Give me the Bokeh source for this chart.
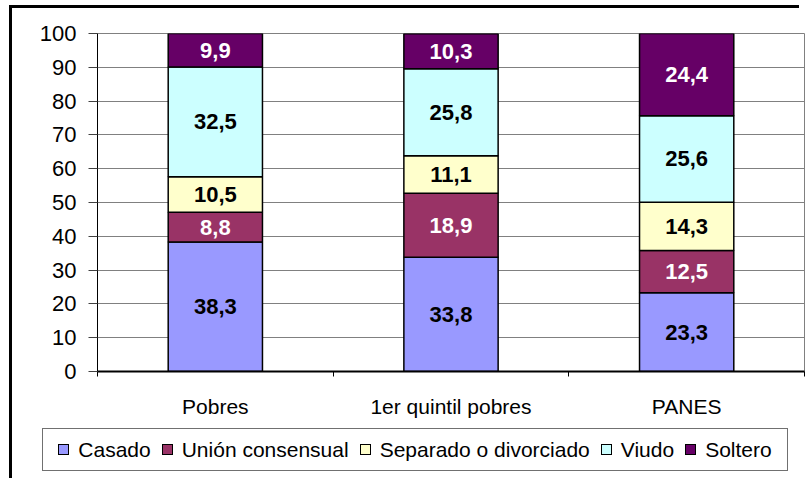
from bokeh.plotting import figure
from bokeh.layouts import column
from bokeh.models import Range1d, FixedTicker, InlineStyleSheet, Div
from bokeh.embed import file_html
from bokeh.resources import INLINE
from bokeh.core.properties import value

categories = ["Pobres", "1er quintil pobres", "PANES"]
series_names = ["Casado", "Unión consensual", "Separado o divorciado", "Viudo", "Soltero"]
casado = [38.3, 33.8, 23.3]
union_consensual = [8.8, 18.9, 12.5]
separado = [10.5, 11.1, 14.3]
viudo = [32.5, 25.8, 25.6]
soltero = [9.9, 10.3, 24.4]
y_ticks = [0, 10, 20, 30, 40, 50, 60, 70, 80, 90, 100]

series_values = [casado, union_consensual, separado, viudo, soltero]
colors = ["#9999FF", "#993366", "#FFFFCC", "#CCFFFF", "#660066"]
label_colors = ["black", "white", "black", "black", "white"]

FONT = "Liberation Sans"

p = figure(width=808, height=428, output_backend="svg", toolbar_location=None,
           x_range=Range1d(0, len(categories)), y_range=Range1d(0, 100),
           min_border_left=97, min_border_right=4, min_border_top=33, min_border_bottom=57)
p.background_fill_color = "white"
p.border_fill_color = "white"
p.outline_line_color = "#808080"
p.outline_line_width = 1

centers = [i + 0.5 for i in range(len(categories))]
bounds = [i for i in range(len(categories) + 1)]

bottoms = [0.0] * len(categories)
for name, vals, col, lc in zip(series_names, series_values, colors, label_colors):
    tops = [b + v for b, v in zip(bottoms, vals)]
    p.vbar(x=centers, bottom=bottoms, top=tops, width=0.4, fill_color=col,
           line_color="black", line_width=1.5)
    mids = [(b + t) / 2 for b, t in zip(bottoms, tops)]
    texts = [f"{v:.1f}".replace(".", ",") for v in vals]
    p.text(x=centers, y=mids, text=texts, text_color=lc, text_font=value(FONT),
           text_font_style="bold", text_font_size="22px", text_align="center",
           text_baseline="middle")
    bottoms = tops

# y axis
p.yaxis.ticker = FixedTicker(ticks=y_ticks)
p.yaxis.major_label_text_font = FONT
p.yaxis.major_label_text_font_size = "22px"
p.yaxis.major_label_text_color = "black"
p.yaxis.major_tick_in = 0
p.yaxis.major_tick_out = 9
p.yaxis.minor_tick_line_color = None
p.yaxis.axis_line_color = "black"
p.yaxis.major_tick_line_color = "#404040"
p.yaxis.major_label_standoff = 12

# x axis
p.xaxis.ticker = FixedTicker(ticks=centers, minor_ticks=bounds)
p.xaxis.major_label_overrides = {c: n for c, n in zip(centers, categories)}
p.xaxis.major_tick_line_color = None
p.xaxis.major_tick_in = 0
p.xaxis.major_tick_out = 0
p.xaxis.minor_tick_in = 0
p.xaxis.minor_tick_out = 5
p.xaxis.minor_tick_line_color = "black"
p.xaxis.axis_line_color = "black"
p.xaxis.axis_line_width = 2
p.xaxis.major_label_text_font = FONT
p.xaxis.major_label_text_font_size = "21px"
p.xaxis.major_label_text_color = "black"
p.xaxis.major_label_standoff = 18

p.xgrid.grid_line_color = None
p.ygrid.grid_line_color = "#808080"
p.ygrid.grid_line_width = 1

# outer chart frame (left and top edges)
p.stylesheets = [InlineStyleSheet(css="""
:host { position: relative; }
:host::before { content: ""; position: absolute; left: 9px; top: 5px; width: 790px; height: 3px;
  background: black; z-index: 10; pointer-events: none; }
:host::after { content: ""; position: absolute; left: 9px; top: 5px; width: 3px; height: calc(100% - 5px);
  background: black; z-index: 10; pointer-events: none; }
""")]

# legend strip (HTML) below the chart
entries = "".join(
    f'<span style="display:flex;align-items:center;margin-right:11px;">'
    f'<span style="display:inline-block;width:11px;height:11px;background:{c};'
    f'border:1px solid black;margin-right:9px;"></span>{n}</span>'
    for n, c in zip(series_names, colors))
legend_html = (
    '<div style="position:relative;width:808px;height:50px;background:white;">'
    '<div style="position:absolute;left:9px;top:0;width:3px;height:50px;background:black;"></div>'
    '<div style="position:absolute;left:42px;top:0;width:746px;height:43px;box-sizing:border-box;'
    'border:1.5px solid #707070;background:white;display:flex;align-items:center;'
    'justify-content:center;white-space:nowrap;padding-left:11px;'
    f'font-family:\'{FONT}\';font-size:21px;color:black;">{entries}</div></div>')
legend_div = Div(text=legend_html, width=808, height=50, margin=0)

layout = column(p, legend_div, spacing=0)
open("out.html", "w").write(file_html(layout, INLINE))
